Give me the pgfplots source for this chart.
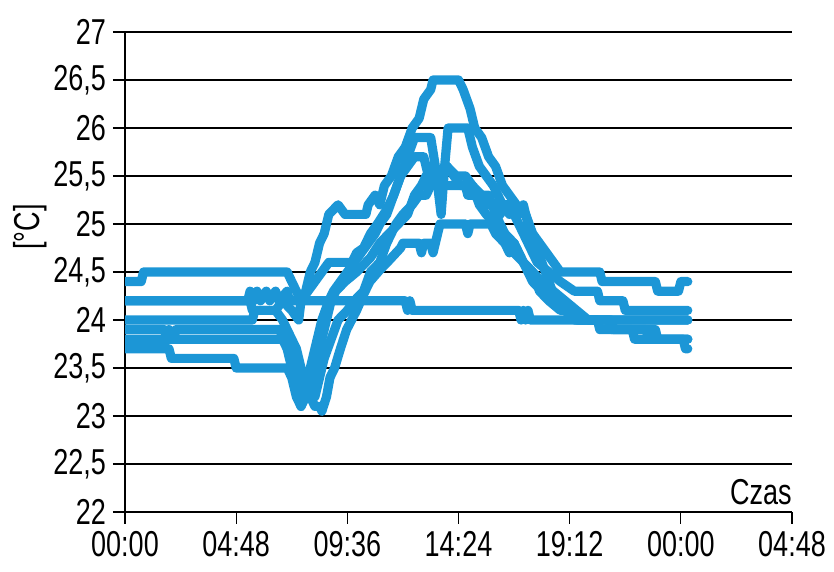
\documentclass[border=0pt]{standalone}
\usepackage{fontspec}
\setmainfont{Liberation Sans}[FakeStretch=0.75]
\usepackage{pgfplots}
\pgfplotsset{compat=1.18}
\definecolor{lb}{RGB}{28,150,214}
\pgfplotsset{tl/.style={color=lb, line width=4.6pt, line join=round, line cap=round, mark=none}}
\begin{document}
\begin{tikzpicture}
\begin{axis}[
 at={(62.5pt,30pt)}, anchor=south west,
 scale only axis, width=333.5pt, height=240pt,
 xmin=0, xmax=28.8, ymin=22, ymax=27,
 axis x line=bottom, axis y line=left,
 axis line style={-, line width=0.6pt, black},
 xtick={0,4.8,9.6,14.4,19.2,24,28.8},
 xticklabels={00:00,04:48,09:36,14:24,19:12,00:00,04:48},
 ytick={22,22.5,23,23.5,24,24.5,25,25.5,26,26.5,27},
 yticklabels={22,{22,5},23,{23,5},24,{24,5},25,{25,5},26,{26,5},27},
 tick align=outside, major tick length=6pt,
 tick style={black, line width=0.6pt},
 ymajorgrids, grid style={black, line width=0.6pt},
 ticklabel style={font=\fontsize{18}{18}\selectfont},
 xlabel={Czas}, xlabel style={at={(rel axis cs:1,0)}, anchor=base east, yshift=3.5pt, inner sep=0pt, font=\fontsize{18}{18}\selectfont},
 ylabel={[°C]}, ylabel style={at={(rel axis cs:-0.142,0.594)}, anchor=center, font=\fontsize{18}{18}\selectfont},
]
% A
\addplot[tl] coordinates {(0,24.4)(0.7,24.4)(0.8,24.5)(7.0,24.5)(7.2,24.4)(7.4,24.3)(7.6,24.2)(7.8,24.3)(8.0,24.5)(8.2,24.6)(8.4,24.8)(8.6,24.9)(8.8,25.1)(9.2,25.2)(9.5,25.1)(10.4,25.1)(10.5,25.2)(10.8,25.3)(11.0,25.2)(11.2,25.4)(11.5,25.5)(11.8,25.7)(12.1,25.8)(12.4,26.0)(12.7,26.1)(12.9,26.3)(13.2,26.4)(13.3,26.5)(14.4,26.5)(14.6,26.4)(14.9,26.2)(15.1,26.0)(15.4,25.9)(15.7,25.7)(16.0,25.6)(16.3,25.4)(16.6,25.3)(16.9,25.2)(17.3,25.1)(17.6,24.9)(17.9,24.8)(18.2,24.7)(18.5,24.6)(18.8,24.5)(20.5,24.5)(20.6,24.4)(22.9,24.4)(23.0,24.3)(23.9,24.3)(24.0,24.4)(24.3,24.4)};
% B
\addplot[tl] coordinates {(0,24.2)(5.3,24.2)(5.4,24.3)(5.55,24.2)(5.7,24.3)(5.85,24.2)(6.1,24.3)(6.25,24.2)(6.5,24.3)(6.65,24.2)(7.0,24.3)(7.1,24.2)(12.1,24.2)(12.2,24.1)(12.3,24.2)(12.4,24.1)(17.0,24.1)(17.1,24.0)(17.2,24.1)(17.3,24.0)(17.4,24.1)(17.5,24.0)(24.3,24.0)};
% C
\addplot[tl] coordinates {(0,24.2)(5.4,24.2)(5.5,24.1)(6.5,24.1)(6.8,24.2)(7.2,24.1)(7.5,24.0)(7.6,24.2)(7.9,24.3)(8.2,24.4)(8.5,24.5)(8.8,24.6)(9.8,24.6)(10.0,24.7)(10.3,24.75)(10.6,24.9)(10.9,25.0)(11.3,25.15)(11.6,25.3)(11.9,25.5)(12.2,25.7)(12.5,25.9)(13.2,25.9)(13.4,25.6)(13.65,25.1)(13.8,25.6)(13.95,26.0)(14.8,26.0)(15.0,25.8)(15.3,25.6)(15.6,25.5)(15.9,25.4)(16.3,25.2)(16.6,25.2)(17.0,25.0)(17.4,24.8)(17.8,24.6)(18.3,24.5)(18.8,24.4)(19.4,24.3)(20.4,24.3)(20.5,24.2)(21.5,24.2)(21.6,24.1)(24.3,24.1)};
% D
\addplot[tl] coordinates {(0,23.9)(1.7,23.9)(1.8,23.8)(1.9,23.9)(2.1,23.8)(2.2,23.9)(6.7,23.9)(6.8,23.8)(7.0,23.7)(7.2,23.5)(7.4,23.3)(7.6,23.1)(7.75,23.2)(7.9,23.4)(8.1,23.6)(8.3,23.8)(8.5,24.0)(8.8,24.2)(9.0,24.3)(9.3,24.4)(9.6,24.5)(9.9,24.6)(10.2,24.7)(10.5,24.8)(10.8,24.9)(11.0,25.0)(11.3,25.1)(11.6,25.3)(11.9,25.5)(12.2,25.6)(12.5,25.7)(12.9,25.7)(13.1,25.5)(13.4,25.4)(14.7,25.4)(14.8,25.3)(15.7,25.3)(16.0,25.1)(16.4,24.9)(16.8,24.8)(17.2,24.6)(17.6,24.4)(18.0,24.3)(18.5,24.2)(19.0,24.1)(19.4,24.0)(20.9,24.0)(21.0,23.9)(22.5,23.9)(22.6,23.8)(24.3,23.8)};
% E
\addplot[tl] coordinates {(0,23.8)(7.0,23.8)(7.2,23.7)(7.5,23.5)(7.8,23.3)(8.0,23.2)(8.2,23.1)(8.4,23.1)(8.5,23.05)(8.7,23.2)(8.85,23.4)(9.05,23.5)(9.3,23.7)(9.57,23.9)(10.0,24.1)(10.25,24.24)(10.57,24.4)(11.0,24.52)(11.4,24.62)(11.9,24.75)(12.0,24.8)(12.7,24.8)(12.8,24.7)(12.9,24.8)(13.2,24.8)(13.3,24.7)(13.4,24.8)(13.6,25.0)(14.7,25.0)(14.8,24.9)(14.9,25.0)(15.8,25.0)(16.0,24.9)(16.4,24.8)(16.6,24.7)(16.8,24.8)(17.2,24.6)(17.6,24.5)(17.9,24.3)(18.3,24.2)(18.8,24.1)(19.4,24.1)(19.6,24.0)(24.3,24.0)};
% F
\addplot[tl] coordinates {(0,23.7)(1.9,23.7)(2.0,23.6)(4.7,23.6)(4.8,23.5)(7.0,23.5)(7.2,23.4)(7.4,23.2)(7.6,23.1)(7.8,23.2)(7.9,23.4)(8.0,23.3)(8.2,23.2)(8.3,23.3)(8.6,23.6)(8.9,23.8)(9.2,24.0)(9.6,24.1)(9.9,24.2)(10.3,24.3)(10.6,24.5)(11.0,24.6)(11.3,24.8)(11.7,25.0)(12.0,25.1)(12.4,25.2)(12.7,25.3)(13.0,25.3)(13.2,25.4)(13.5,25.5)(13.9,25.6)(14.3,25.5)(14.7,25.5)(15.0,25.4)(15.4,25.3)(15.7,25.2)(16.0,25.2)(16.2,25.1)(16.4,25.2)(16.6,25.1)(16.8,25.2)(17.0,25.1)(17.2,25.2)(17.4,25.0)(17.7,24.8)(18.0,24.6)(18.3,24.4)(18.6,24.2)(19.0,24.1)(19.5,24.0)(20.4,24.0)(20.5,23.9)(21.9,23.9)(22.0,23.8)(24.1,23.8)(24.2,23.7)(24.3,23.7)};
% G
\addplot[tl] coordinates {(0,24.0)(5.5,24.0)(5.6,24.1)(6.5,24.1)(6.8,24.0)(7.0,23.9)(7.2,23.8)(7.4,23.7)(7.6,23.5)(7.8,23.4)(8.0,23.3)(8.1,23.4)(8.3,23.6)(8.5,23.8)(8.7,24.0)(8.9,24.2)(9.1,24.3)(9.5,24.4)(10.0,24.5)(10.6,24.65)(11.0,24.8)(11.4,24.9)(11.8,25.0)(12.2,25.1)(12.5,25.3)(12.8,25.4)(13.0,25.5)(13.3,25.6)(13.6,25.5)(13.9,25.6)(14.2,25.5)(14.5,25.4)(15.0,25.4)(15.3,25.2)(15.6,25.1)(16.0,25.0)(16.4,24.9)(16.8,24.7)(17.2,24.6)(17.6,24.5)(18.0,24.4)(18.5,24.3)(19.0,24.2)(19.5,24.1)(20.0,24.0)(21.0,24.0)(21.1,23.9)(22.9,23.9)(23.0,23.8)(24.3,23.8)};
\end{axis}
\pgfresetboundingbox
\path[use as bounding box] (0,0) rectangle (417pt,286pt);
\end{tikzpicture}
\end{document}
